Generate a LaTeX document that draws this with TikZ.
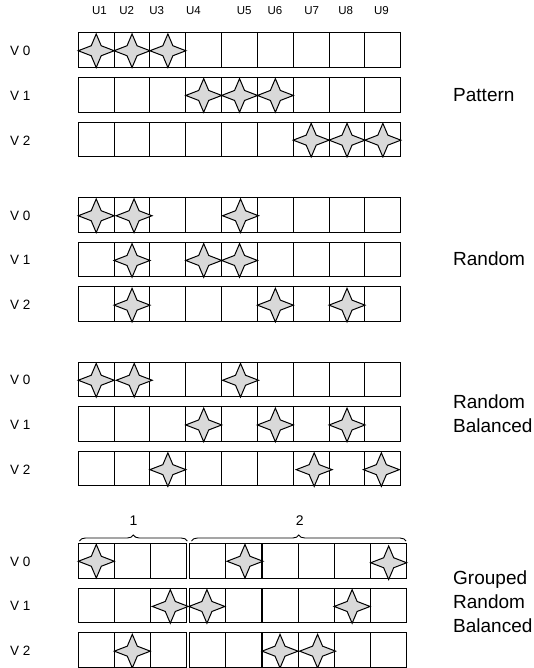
\documentclass[tikz,border=0pt]{standalone}
\usepackage{fontspec}
\setmainfont{Liberation Sans}
\usetikzlibrary{decorations.pathreplacing}
\definecolor{starfill}{RGB}{217,217,217}
\tikzset{
  cell/.style={draw=black, line width=1pt, minimum width=35.83pt, minimum height=34.5pt, inner sep=0pt, outer sep=0pt},
  gcell/.style={cell, minimum width=36pt},
  vlab/.style={font=\fontsize{13.5}{16}\selectfont, anchor=west, inner sep=0pt},
  ulab/.style={font=\fontsize{11.5}{13}\selectfont, inner sep=0pt},
  rlab/.style={font=\fontsize{19}{24}\selectfont, anchor=west, align=left, inner sep=0pt},
  blab/.style={font=\fontsize{14}{16}\selectfont, inner sep=0pt},
  bracestyle/.style={decorate, decoration={brace, amplitude=6pt}, line width=0.9pt},
  star4/.pic={\draw[fill=starfill, line width=1pt, line join=miter]
     (-18,0) -- (-5,-5) -- (0,-16.8) -- (5,-5) -- (18,0) -- (5,5) -- (0,16.8) -- (-5,5) -- cycle;}
}
\begin{document}
\begin{tikzpicture}[x=1pt,y=-1pt]
\useasboundingbox (0,0) rectangle (534,668);
% column headers
\foreach \i/\xx in {1/99.5,2/126.7,3/156.7,4/193.5,5/244.2,6/274.9,7/311.6,8/345.7,9/381.5}
  \node[ulab] (u\i) at (\xx,11) {U\i};
% sections 1-3
\foreach \s/\tp in {1/33,2/197.5,3/362}{
  \foreach \r in {0,1,2}{
    \node[vlab] (v\s r\r) at (10,{\tp+44.7*\r+18}) {V \r};
    \foreach \c in {1,...,9}
      \node[cell] (s\s r\r c\c) at ({78.3+35.83*(\c-0.5)},{\tp+44.7*\r+17.25}) {};
  }
}
% section 4 (grouped)
\foreach \r in {0,1,2}{
  \node[vlab] (v4r\r) at (10,{543.5+44.7*\r+18}) {V \r};
  \foreach \c in {1,2,3}
    \node[gcell] (ga r\r c\c) at ({78.3+36*(\c-0.5)},{543.5+44.7*\r+17.25}) {};
  \foreach \c in {1,...,6}
    \node[gcell] (gb r\r c\c) at ({189.9+36.05*(\c-0.5)},{543.5+44.7*\r+17.25}) {};
}
% right labels
\node[rlab] (lp) at (453,95) {Pattern};
\node[rlab] (lr) at (453,258.7) {Random};
\node[rlab] (lrb) at (453,414) {Random\\Balanced};
\node[rlab] (lgrb) at (453,602) {Grouped\\Random\\Balanced};
% braces
\coordinate (b1l) at (79.4,541);
\coordinate (b1r) at (187.3,541);
\coordinate (b2l) at (191.5,541);
\coordinate (b2r) at (406,541);
\draw[bracestyle] (b1l) -- (b1r);
\draw[bracestyle] (b2l) -- (b2r);
\node[blab] (n1) at (133.5,521) {1};
\node[blab] (n2) at (299.7,521) {2};
% stars
\foreach \n/\dx/\dy in {
  s1r0c1/0/0.5, s1r0c2/0/0.5, s1r0c3/0/0.5,
  s1r1c4/0/0.5, s1r1c5/0/0.5, s1r1c6/0/0.5,
  s1r2c7/0/0.5, s1r2c8/0/0.5, s1r2c9/0/0.5,
  s2r0c1/0/1, s2r0c2/2/1, s2r0c5/1/1,
  s2r1c2/0/1, s2r1c4/0/1, s2r1c5/0/1,
  s2r2c2/0/1, s2r2c6/0/1, s2r2c8/0/1,
  s3r0c1/0/1, s3r0c2/2.2/1, s3r0c5/1/1,
  s3r1c4/0/1, s3r1c6/0/1, s3r1c8/0/1,
  s3r2c3/0/1, s3r2c7/3/1, s3r2c9/-1.5/1,
  ga r0c1/0/0.5, gb r0c2/1/0.5, gb r0c6/0.5/2,
  ga r1c3/2/1, gb r1c1/-1/1, gb r1c5/0/1,
  ga r2c2/0/1, gb r2c3/0/1, gb r2c4/1.5/1}
  \path (\n.center) ++(\dx,\dy) pic {star4};
\end{tikzpicture}
\end{document}
